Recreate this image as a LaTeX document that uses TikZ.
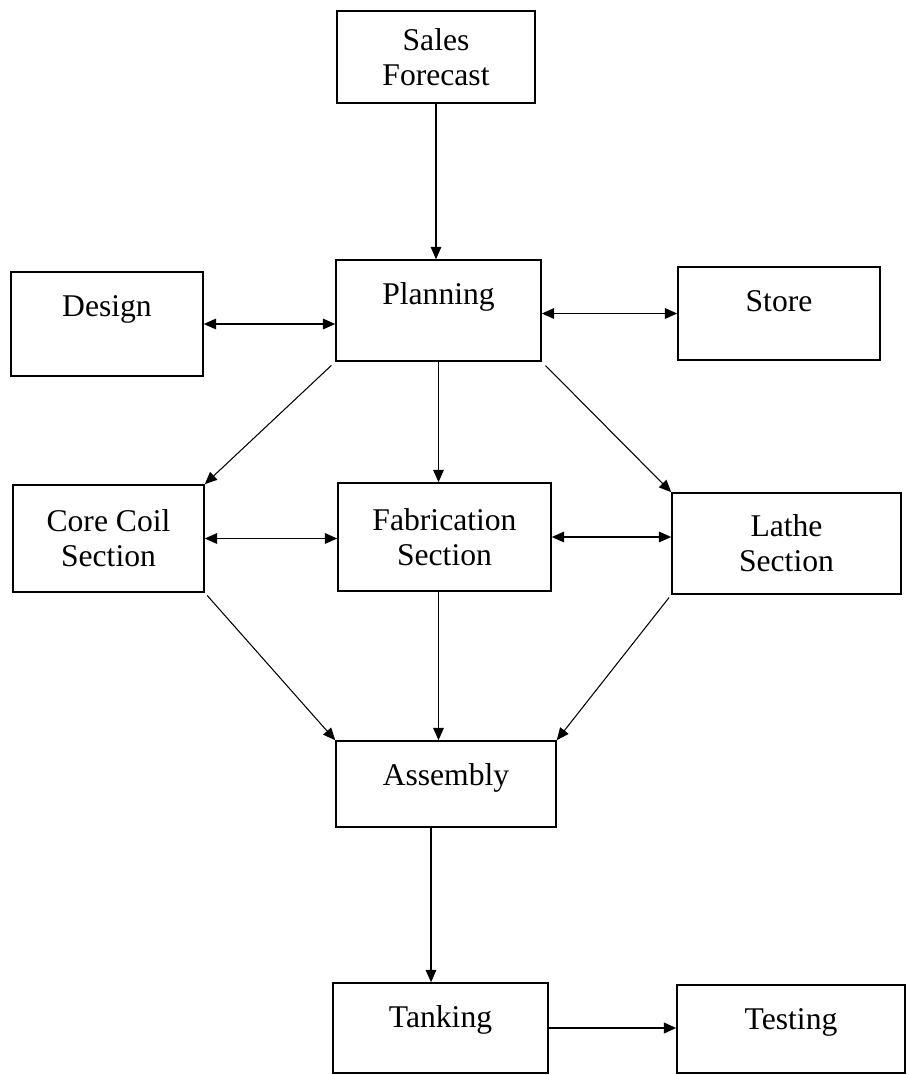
\documentclass[tikz,border=0pt]{standalone}
\usepackage{fontspec}
\setmainfont{Liberation Serif}
\usetikzlibrary{arrows.meta}
\begin{document}
\begin{tikzpicture}[x=0.02cm,y=-0.02cm,
	box/.style={draw,line width=0.9pt,inner sep=0pt,font=\fontsize{18pt}{20pt}\selectfont},
	top/.style={text height=0.88cm,text depth=#1},
	arr/.style={-{Triangle[length=7pt,width=6pt]},semithick},
	darr/.style={{Triangle[length=7pt,width=6pt]}-{Triangle[length=7pt,width=6pt]},thick}]
	\useasboundingbox (0,0) rectangle (909,1075);
	\node[box,align=center,minimum width=3.96cm,minimum height=1.84cm] (sales) at (436,57) {Sales\\Forecast};
	\node[box,top=1.14cm,minimum width=4.1cm] (plan) at (438.5,310.5) {Planning};
	\node[box,top=1.2cm,minimum width=3.84cm] (design) at (107,324) {Design};
	\node[box,top=0.98cm,minimum width=4.04cm] (store) at (779,313.5) {Store};
	\node[box,align=center,minimum width=3.82cm,minimum height=2.14cm] (core) at (108.5,538.5) {Core Coil\\Section};
	\node[box,align=center,minimum width=4.26cm,minimum height=2.16cm] (fab) at (444.5,537) {Fabrication\\Section};
	\node[box,align=center,minimum width=4.58cm,minimum height=2.02cm] (lathe) at (786.5,543.5) {Lathe\\Section};
	\node[box,top=0.84cm,minimum width=4.4cm] (asm) at (446,784) {Assembly};
	\node[box,top=0.92cm,minimum width=4.3cm] (tank) at (440.5,1028) {Tanking};
	\node[box,top=0.88cm,minimum width=4.56cm] (test) at (791,1029) {Testing};
	\draw[arr] (sales.south) -- (sales.south |- plan.north);
	\draw[darr] (design.east) -- (design.east -| plan.west);
	\draw[darr] (plan.east |- store.west) -- (store.west);
	\draw[arr,shorten <=3pt] (plan.south west) -- (core.north east);
	\draw[arr] (plan.south) -- (plan.south |- fab.north);
	\draw[arr,shorten <=3pt] (plan.south east) -- (lathe.north west);
	\draw[darr] (core.east) -- (core.east -| fab.west);
	\draw[darr] (fab.east) -- (fab.east -| lathe.west);
	\draw[arr,shorten <=2pt] (core.south east) -- (asm.north west);
	\draw[arr,thick] (fab.south -| plan.south) -- (asm.north -| plan.south);
	\draw[arr,shorten <=2pt] (lathe.south west) -- (asm.north east);
	\draw[arr,thick] ([xshift=-3mm]asm.south) -- ([xshift=-3mm]asm.south |- tank.north);
	\draw[arr,very thick] (tank.east) -- (tank.east -| test.west);
\end{tikzpicture}
\end{document}
